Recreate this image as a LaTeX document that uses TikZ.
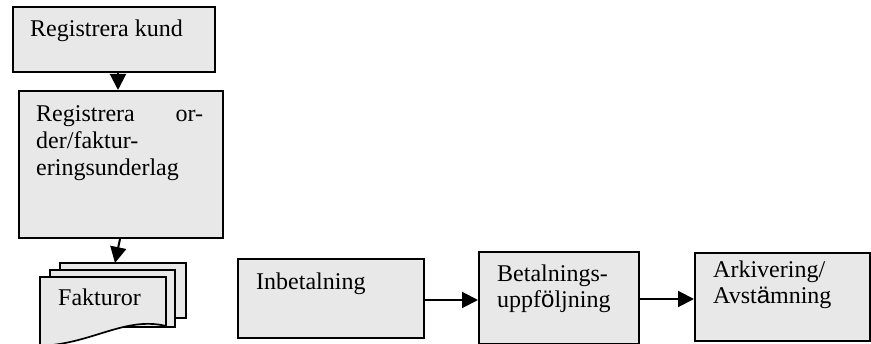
\documentclass[tikz,border=0pt]{standalone}
\usepackage{fontspec}
\setmainfont{Liberation Serif}
\newfontfamily\umlfont{Liberation Sans}
\usetikzlibrary{arrows.meta,calc}
\definecolor{boxgray}{HTML}{E8E8E8}
\tikzset{
  box/.style={draw=black, fill=boxgray, line width=2pt, rectangle, inner sep=0pt, anchor=north west},
  txt/.style={inner sep=0pt, anchor=base west, font=\fontsize{24pt}{27pt}\selectfont},
  flow/.style={line width=2pt, -{Triangle[length=16pt,width=16pt]}},
  page/.style={draw=black, fill=boxgray, line width=1.7pt}
}
\begin{document}
\begin{tikzpicture}[x=1pt,y=-1pt]
\useasboundingbox (0,0) rectangle (871,344);
% boxes
\node[box, minimum width=202pt, minimum height=65pt] (kund) at (12,6) {};
\node[box, minimum width=204pt, minimum height=147pt] (order) at (18,90) {};
\node[box, minimum width=186pt, minimum height=79pt] (inbet) at (237,258) {};
\node[box, minimum width=160pt, minimum height=92pt] (betal) at (478,251) {};
\node[box, minimum width=175pt, minimum height=88pt] (arkiv) at (694,252) {};
% Fakturor (multiple documents)
\draw[page] (60,263) rectangle (186,318);
\draw[page] (50,270) rectangle (175,327);
\draw[page] (40,277) -- (166,277) -- (166,326) .. controls (125,316) and (92,344) .. (40,346) -- cycle;
\coordinate (fak) at (115,263);
% texts
\node[txt] (t1) at (30,37) {Registrera kund};
\node[txt] (t2a) at (36,122) {\hbox to 167pt{Registrera\hfill or-}};
\node[txt] (t2b) at (36,149) {der/faktur-};
\node[txt] (t2c) at (36,176) {eringsunderlag};
\node[txt] (t3) at (58,306) {Fakturor};
\node[txt] (t4) at (256,290) {Inbetalning};
\node[txt] (t5a) at (497,282) {Betalnings-};
\node[txt] (t5b) at (497,308) {uppf{\umlfont ö}ljning};
\node[txt] (t6a) at (713,278) {Arkivering/};
\node[txt] (t6b) at (713,304) {Avst{\umlfont ä}mning};
% connectors
\draw[flow] ($(kund.south west)+(106,0)$) -- ($(order.north west)+(100,0)$);
\draw[flow] ($(order.south west)+(102,0)$) -- (fak);
\draw[flow] ($(inbet.north east)+(0,42)$) -- ($(betal.north west)+(0,49)$);
\draw[flow] ($(betal.north east)+(0,48)$) -- ($(arkiv.north west)+(0,47)$);
\end{tikzpicture}
\end{document}
